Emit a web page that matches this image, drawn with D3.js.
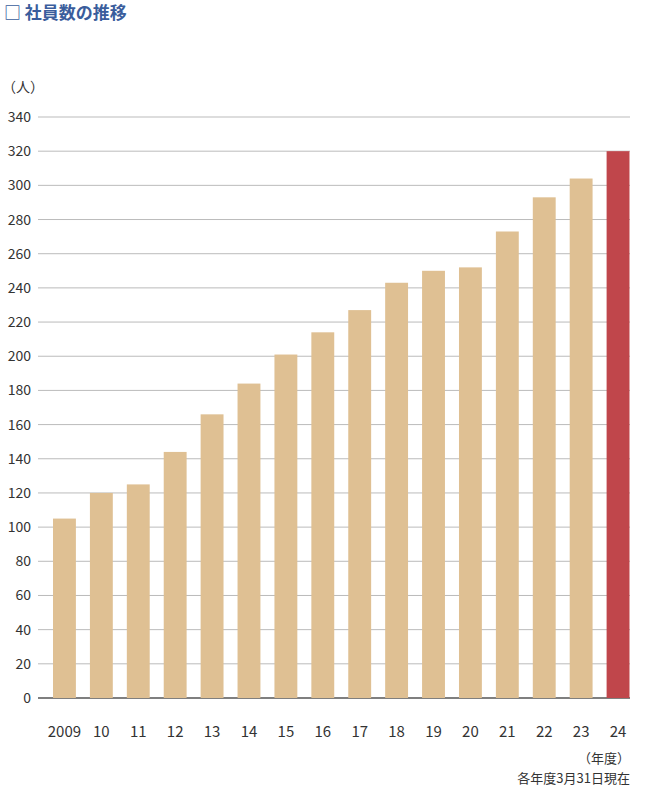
<!DOCTYPE html>
<html><head><meta charset="utf-8">
<script src="https://cdn.jsdelivr.net/npm/d3@7"></script>
<style>body{margin:0;background:#fff;font-family:"Noto Sans CJK JP","Noto Sans",sans-serif;}</style>
</head><body>
<svg id="c" width="648" height="787"></svg>
<script>
const years = ["2009","10","11","12","13","14","15","16","17","18","19","20","21","22","23","24"];
const employees = [105,120,125,144,166,184,201,214,227,243,250,252,273,293,304,320];
const yTicks = d3.range(0,341,20);

const svg = d3.select("#c");
const x = d3.scaleBand().domain(years).range([46,636.5]).paddingInner(0.38).paddingOuter(0.19);
const y = d3.scaleLinear().domain([0,340]).range([698,117]);

svg.append("text").attr("x",4).attr("y",19).attr("fill","#3a5d9c").attr("font-size",17).attr("font-weight","bold").text("□ 社員数の推移");
svg.append("text").attr("x",2).attr("y",92).attr("fill","#333").attr("font-size",14).text("（人）");

const g = svg.append("g");
g.selectAll("line.grid").data(yTicks).join("line")
 .attr("x1",38).attr("x2",630).attr("y1",d=>y(d)).attr("y2",d=>y(d))
 .attr("stroke",d=>d===0?"#555":"#bbb").attr("stroke-width",d=>d===0?1.5:1);
g.selectAll("text.yt").data(yTicks).join("text")
 .attr("x",31).attr("y",d=>y(d)+5).attr("text-anchor","end").attr("fill","#333").attr("font-size",14).text(d=>d);

g.selectAll("rect").data(employees).join("rect")
 .attr("x",(d,i)=>x(years[i])).attr("width",x.bandwidth())
 .attr("y",d=>y(d)).attr("height",d=>y(0)-y(d))
 .attr("fill",(d,i)=>i===years.length-1?"#c0464b":"#dfc093");

g.selectAll("text.xt").data(years).join("text")
 .attr("x",d=>x(d)+x.bandwidth()/2).attr("y",737).attr("text-anchor","middle")
 .attr("fill","#333").attr("font-size",15).text(d=>d);

svg.append("text").attr("x",630).attr("y",763).attr("text-anchor","end").attr("fill","#333").attr("font-size",13).text("（年度）");
svg.append("text").attr("x",630).attr("y",783).attr("text-anchor","end").attr("fill","#333").attr("font-size",13).text("各年度3月31日現在");
</script></body></html>
